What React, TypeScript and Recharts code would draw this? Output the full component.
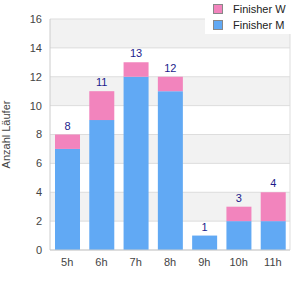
import React from "react";
import {
  BarChart,
  Bar,
  XAxis,
  YAxis,
  CartesianGrid,
  LabelList,
} from "recharts";

const hours = ["5h", "6h", "7h", "8h", "9h", "10h", "11h"];
const finisherM = [7, 9, 12, 11, 1, 2, 2];
const finisherW = [1, 2, 1, 1, 0, 1, 2];
const yTicks = [0, 2, 4, 6, 8, 10, 12, 14, 16];

const BLUE = "#61a9f4";
const PINK = "#f284bd";
const FONT = "'Liberation Sans', Arial, sans-serif";

const data = hours.map((h, i) => ({
  hour: h,
  m: finisherM[i],
  w: finisherW[i],
  total: finisherM[i] + finisherW[i],
}));

// total label sits on top of the stack; drawn from the M bar so the
// 9h column (no W finishers) still gets its label
function TotalLabel(props: any) {
  const { x, y, width, height, index } = props;
  const m = finisherM[index];
  const w = finisherW[index];
  const top = y - (height / m) * w;
  return (
    <text
      x={x + width / 2}
      y={top - 5}
      textAnchor="middle"
      fill="#1c1c8c"
      fontSize={11}
      fontFamily={FONT}
    >
      {m + w}
    </text>
  );
}

function LegendBox() {
  const items = [
    { name: "Finisher W", color: PINK },
    { name: "Finisher M", color: BLUE },
  ];
  return (
    <div
      style={{
        position: "absolute",
        top: 0,
        left: 205,
        width: 95,
        boxSizing: "border-box",
        background: "#fff",
        padding: "1px 0 1px 8px",
        fontFamily: FONT,
        fontSize: 11,
        color: "#222",
      }}
    >
      {items.map((it) => (
        <div
          key={it.name}
          style={{ display: "flex", alignItems: "center", height: 16 }}
        >
          <span
            style={{
              width: 8,
              height: 8,
              background: it.color,
              border: "1px solid #888",
              marginRight: 10,
              display: "inline-block",
            }}
          />
          {it.name}
        </div>
      ))}
    </div>
  );
}

export default function App() {
  return (
    <div
      style={{
        position: "fixed",
        left: 0,
        top: 0,
        width: 300,
        height: 300,
        background: "#fff",
      }}
    >
      <BarChart
        width={300}
        height={300}
        data={data}
        margin={{ top: 19, right: 10, bottom: 20, left: 0 }}
      >
        <CartesianGrid
          stroke="#dddddd"
          horizontalFill={["#f2f2f2", "#ffffff"]}
          verticalCoordinatesGenerator={(props: any) => [
            props.offset.left + props.offset.width,
          ]}
        />
        <XAxis
          dataKey="hour"
          height={30}
          tickLine={false}
          interval={0}
          axisLine={{ stroke: "#cccccc" }}
          tick={{ fill: "#444", fontSize: 11, fontFamily: FONT }}
        />
        <YAxis
          width={50}
          domain={[0, 16]}
          ticks={yTicks}
          tickLine={false}
          axisLine={{ stroke: "#cccccc" }}
          tick={{ fill: "#444", fontSize: 11, fontFamily: FONT }}
          label={{
            value: "Anzahl Läufer",
            angle: -90,
            position: "insideLeft",
            offset: 6,
            style: {
              fill: "#444",
              fontSize: 11,
              fontFamily: FONT,
              textAnchor: "middle",
            },
          }}
        />
        <Bar
          dataKey="m"
          name="Finisher M"
          stackId="a"
          fill={BLUE}
          barSize={25}
          isAnimationActive={false}
        >
          <LabelList dataKey="total" content={TotalLabel} />
        </Bar>
        <Bar
          dataKey="w"
          name="Finisher W"
          stackId="a"
          fill={PINK}
          barSize={25}
          isAnimationActive={false}
        />
      </BarChart>
      <LegendBox />
    </div>
  );
}
